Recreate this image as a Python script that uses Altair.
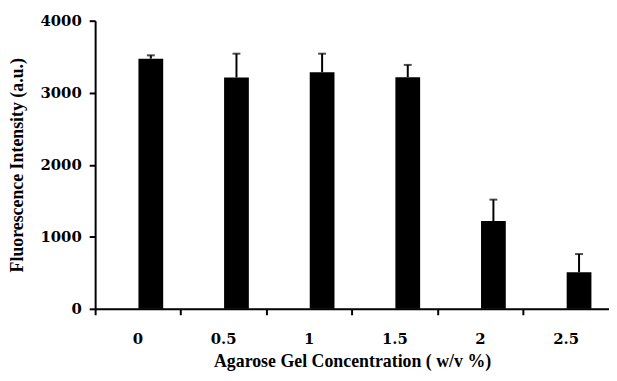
import altair as alt
import pandas as pd

categories = ["0", "0.5", "1", "1.5", "2", "2.5"]
means = [3473, 3212, 3285, 3216, 1219, 509]
upper = [3519, 3542, 3542, 3386, 1516, 760]

df = pd.DataFrame({"cat": categories, "mean": means, "upper": upper})

LFONT = "DejaVu Serif"
TFONT = "Liberation Serif"

x = alt.X(
    "cat:N",
    sort=categories,
    scale=alt.Scale(paddingInner=0, paddingOuter=0),
    axis=alt.Axis(
        title="Agarose Gel Concentration ( w/v %)",
        labelAngle=0,
        bandPosition=0,
        labelFont=LFONT, labelFontSize=15, labelFontWeight="bold", labelColor="black",
        titleFont=TFONT, titleFontSize=18, titleFontWeight="bold", titleColor="black",
        domainColor="black", domainWidth=2, tickColor="black", tickWidth=2, tickSize=6,
        labelPadding=17, titlePadding=6,
    ),
)

base = alt.Chart(df)

bars = base.mark_bar(color="black", size=25, xOffset=13).encode(
    x=x,
    y=alt.Y(
        "mean:Q",
        scale=alt.Scale(domain=[0, 4000], nice=False),
        axis=alt.Axis(
            title="Fluorescence Intensity (a.u.)",
            values=[0, 1000, 2000, 3000, 4000],
            format="d",
            grid=False,
            labelFont=LFONT, labelFontSize=15, labelFontWeight="bold", labelColor="black",
            titleFont=TFONT, titleFontSize=18, titleFontWeight="bold", titleColor="black",
            domainColor="black", domainWidth=2, tickColor="black", tickWidth=2, tickSize=6,
            labelPadding=8, titlePadding=14,
        ),
    ),
)

err = base.mark_rule(color="black", strokeWidth=2, xOffset=13).encode(
    x=alt.X("cat:N", sort=categories),
    y="mean:Q",
    y2="upper:Q",
)

caps = base.mark_tick(color="black", size=8, thickness=2, orient="horizontal", xOffset=13).encode(
    x=alt.X("cat:N", sort=categories),
    y="upper:Q",
)

chart = (
    alt.layer(bars, err, caps)
    .properties(
        width=519,
        height=291,
        autosize=alt.AutoSizeParams(type="none"),
        padding={"left": 88, "top": 11, "right": 0, "bottom": 63},
        background="white",
    )
    .configure_view(stroke=None)
)

chart.save("out.html", embed_options={"renderer": "svg", "actions": False})
